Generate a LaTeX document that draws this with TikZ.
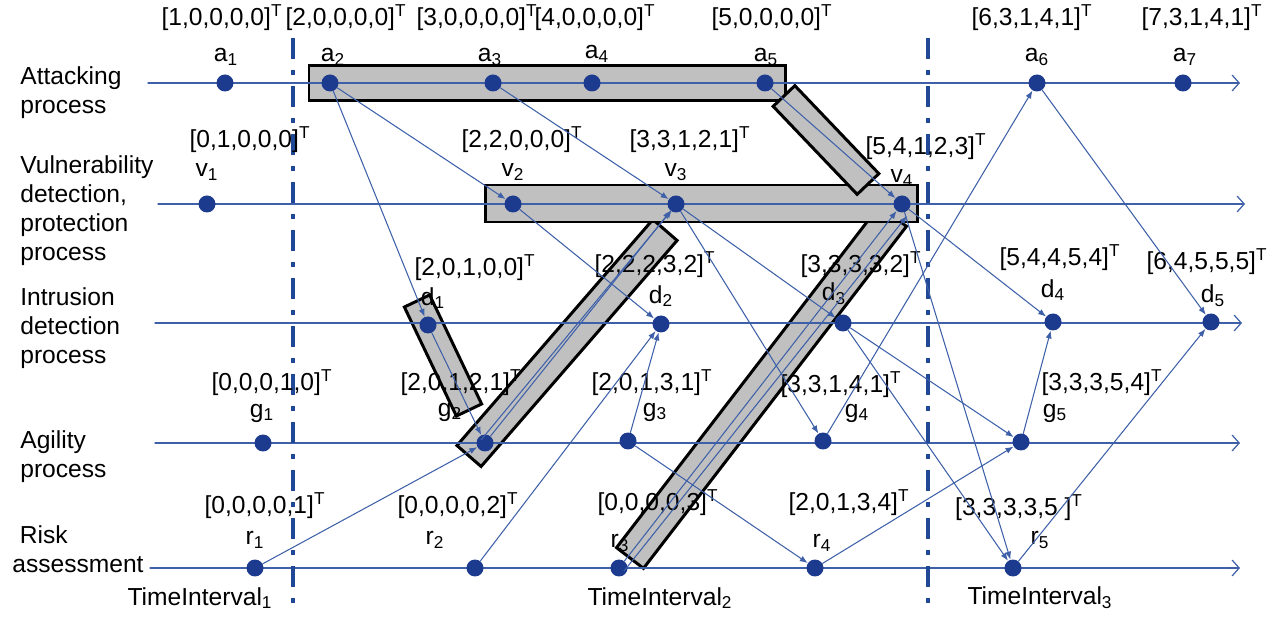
\documentclass[tikz,border=0pt]{standalone}
\usepackage{fontspec}
\setmainfont{Liberation Sans}
\usetikzlibrary{arrows.meta, calc}

\definecolor{dotblue}{RGB}{28,58,142}
\definecolor{msgblue}{RGB}{62,96,168}
\definecolor{dashblue}{RGB}{32,72,150}
\definecolor{boxgray}{RGB}{192,192,192}

\begin{document}
\begin{tikzpicture}[x=0.02cm, y=-0.02cm, >=Stealth, line cap=round, line join=round,
    dot/.style={circle, fill=dotblue, inner sep=0pt, minimum size=0.34cm},
    lbl/.style={inner sep=0pt, font=\fontsize{14}{16.5}\selectfont},
    rowtext/.style={lbl, align=left, anchor=west},
    msg/.style={draw=msgblue, line width=0.6pt, -{Latex[length=4.5pt,width=3.5pt]}},
    timeline/.style={draw=msgblue, line width=0.7pt, -{Straight Barb[length=4pt,width=9pt]}},
    divider/.style={draw=dashblue, line width=2.2pt, line cap=butt,
        dash pattern=on 0.42cm off 0.22cm on 0.1cm off 0.22cm},
    hibox/.style={fill=boxgray, draw=black, line width=1.7pt, line join=miter}]

    \useasboundingbox (0,0) rectangle (1270,617);

    % Highlighted paths (grey boxes)
    \coordinate (hr-s) at (630,558);  \coordinate (hr-e) at (893,216);
    \coordinate (hg-s) at (469,456);  \coordinate (hg-e) at (665,230);
    \coordinate (hd-s) at (417,301);  \coordinate (hd-e) at (469,410);
    \coordinate (ha-s) at (784,96);   \coordinate (ha-e) at (868,184);
    \foreach \b/\w in {hr/0.34cm, hg/0.32cm, hd/0.28cm}{
        \draw[hibox] ($(\b-s)!\w!90:(\b-e)$) -- ($(\b-e)!\w!-90:(\b-s)$)
            -- ($(\b-e)!\w!90:(\b-s)$) -- ($(\b-s)!\w!-90:(\b-e)$) -- cycle;
    }
    \draw[hibox] (485,185) rectangle (917,222);
    \draw[hibox] (309,66) rectangle (785,101);
    \draw[hibox] ($(ha-s)!0.3cm!90:(ha-e)$) -- ($(ha-e)!0.3cm!-90:(ha-s)$)
        -- ($(ha-e)!0.3cm!90:(ha-s)$) -- ($(ha-s)!0.3cm!-90:(ha-e)$) -- cycle;

    % Process lines
    \foreach \rw/\sx/\ex/\y in {a/148/1240/83, v/158/1245/204, d/155/1242/323,
        g/155/1240/443, r/150/1240/568}{
        \coordinate (\rw-start) at (\sx,\y);
        \coordinate (\rw-end) at (\ex,\y);
        \draw[timeline] (\rw-start) -- (\rw-end);
    }

    % Time interval borders
    \coordinate (div1-top) at (293,38);
    \coordinate (div1-bot) at (293,612);
    \coordinate (div2-top) at (928,38);
    \coordinate (div2-bot) at (928,612);
    \draw[divider] (div1-top) -- (div1-bot);
    \draw[divider] (div2-top) -- (div2-bot);

    % Row titles
    \node[rowtext] (t-att) at (20,93) {Attacking\\process};
    \node[rowtext] (t-vul) at (20,211) {Vulnerability\\detection,\\protection\\process};
    \node[rowtext] (t-int) at (20,328) {Intrusion\\detection\\process};
    \node[rowtext] (t-agi) at (20,457) {Agility\\process};
    \node[rowtext] (t-risk) at (12,549) {\hspace{0.15cm}Risk\\assessment};

    % Events: row/index/x/y/name x/name y/vector x/vector y/vector
    \foreach \rw/\k/\x/\y/\nx/\ny/\vx/\vy/\vc in {
        a/1/225/83/226/57/222/18/{1,0,0,0,0},
        a/2/330/83/333/57/346/18/{2,0,0,0,0},
        a/3/493/83/490/57/477/18/{3,0,0,0,0},
        a/4/592/83/597/54/595/18/{4,0,0,0,0},
        a/5/765/83/766/57/772/18/{5,0,0,0,0},
        a/6/1037/83/1037/57/1032/18/{6,3,1,4,1},
        a/7/1183/83/1185/57/1202/18/{7,3,1,4,1},
        v/1/207/204/207/172/250/140/{0,1,0,0,0},
        v/2/513/204/513/172/522/140/{2,2,0,0,0},
        v/3/676/204/676/172/690/140/{3,3,1,2,1},
        v/4/902/204/902/178/926/147/{5,4,1,2,3},
        d/1/428/325/433/298/475/268/{2,0,1,0,0},
        d/2/661/324/661/296/655/265/{2,2,2,3,2},
        d/3/843/323/834/294/861/265/{3,3,3,3,2},
        d/4/1053/322/1053/290/1060/258/{5,4,4,5,4},
        d/5/1211/322/1213/296/1207/262/{6,4,5,5,5},
        g/1/263/443/262/413/272/383/{0,0,0,1,0},
        g/2/485/443/450/412/461/383/{2,0,1,2,1},
        g/3/628/441/655/412/652/383/{2,0,1,3,1},
        g/4/823/441/857/413/841/385/{3,3,1,4,1},
        g/5/1021/442/1055/413/1102/383/{3,3,3,5,4},
        r/1/255/568/255/540/265/506/{0,0,0,0,1},
        r/2/475/568/435/540/458/506/{0,0,0,0,2},
        r/3/619/568/620/543/658/503/{0,0,0,0,3},
        r/4/815/568/822/543/849/503/{2,0,1,3,4},
        r/5/1013/568/1040/540/1019/508/{3,3,3,3,5}
    }{
        \node[dot] (\rw\k) at (\x,\y) {};
        \node[lbl] (\rw\k-name) at (\nx,\ny) {\rw\textsubscript{\k}};
        \node[lbl] (\rw\k-vec) at (\vx,\vy) {[\vc]\textsuperscript{T}};
    }

    % Messages between processes
    \foreach \s/\t in {a2/v2, a2/d1, a3/v3, a5/v4, v2/d2, v3/d3, v3/g4, v4/d4,
        v4/r5, d1/g2, r1/g2, g2/v3, r2/d2, g3/d2, g3/r4, r3/v4, d3/g5, d3/r5,
        g4/a6, a6/d5, g5/d4, r4/g5, r5/d5}{
        \draw[msg] (\s) -- (\t);
    }
    % second strokes inside the long boxes
    \draw[msg] ([shift={(-4,-3)}]g2.center) -- ([shift={(-4,-3)}]v3.south);
    \draw[msg] ([shift={(5,3)}]r3.center) -- ([shift={(5,3)}]v4.south);

    % Interval names
    \node[lbl] (ti1) at (200,598) {TimeInterval\textsubscript{1}};
    \node[lbl] (ti2) at (660,598) {TimeInterval\textsubscript{2}};
    \node[lbl] (ti3) at (1040,598) {TimeInterval\textsubscript{3}};

\end{tikzpicture}
\end{document}
